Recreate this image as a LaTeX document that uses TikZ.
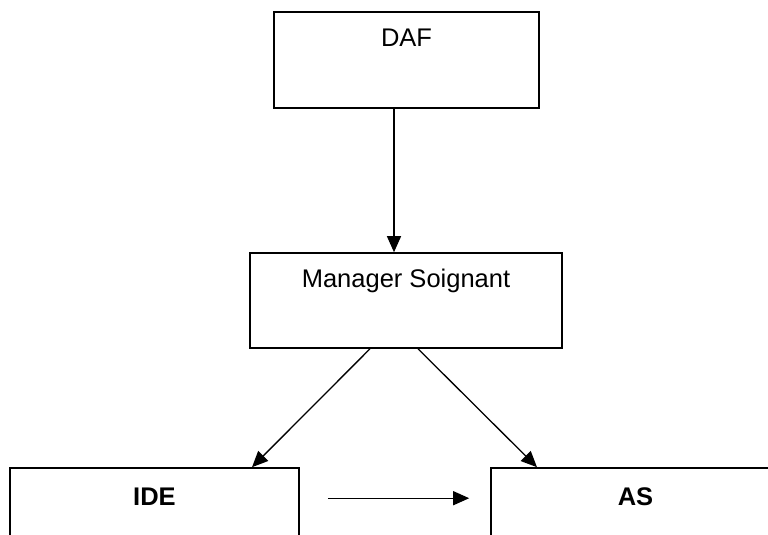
\documentclass[tikz,border=0pt]{standalone}
\usepackage{fontspec}
\setmainfont{Liberation Sans}
\usetikzlibrary{arrows.meta}
\begin{document}
\begin{tikzpicture}[x=1pt,y=-1pt,
  box/.style={draw=black,line width=1.6pt,rectangle,inner sep=0pt,fill=none},
  lbl/.style={inner sep=0pt,anchor=base,font=\fontsize{25.5}{30}\selectfont},
  blbl/.style={lbl,font=\fontsize{25.5}{30}\selectfont\bfseries},
  arr/.style={draw=black,line width=1.3pt,-{Triangle[length=16pt,width=14pt]}}]
\clip (0,0) rectangle (768,535);
\fill[white] (0,0) rectangle (768,535);
% boxes
\node[box,minimum width=265pt,minimum height=96pt] (daf) at (406.5,60) {};
\node[lbl] (daft) at (406.5,47) {DAF};
\node[box,minimum width=312pt,minimum height=95pt] (mgr) at (406,300.5) {};
\node[lbl] (mgrt) at (406,287) {Manager Soignant};
\node[box,minimum width=289pt,minimum height=100pt] (ide) at (154.5,518) {};
\node[blbl] (idet) at (154.5,505) {IDE};
\node[box,minimum width=289pt,minimum height=100pt] (as) at (635.5,518) {};
\node[blbl] (ast) at (635.5,505) {AS};
% connectors
\draw[arr] ([xshift=-12.5pt]daf.south) -- ([xshift=-12pt]mgr.north);
\draw[arr] ([xshift=-36pt]mgr.south) -- ([xshift=97.5pt]ide.north);
\draw[arr] ([xshift=12pt]mgr.south) -- ([xshift=-98.5pt]as.north);
\draw[arr] ([xshift=28pt,yshift=-31pt]ide.north east) -- ([xshift=-21pt,yshift=-31pt]as.north west);
\end{tikzpicture}
\end{document}
